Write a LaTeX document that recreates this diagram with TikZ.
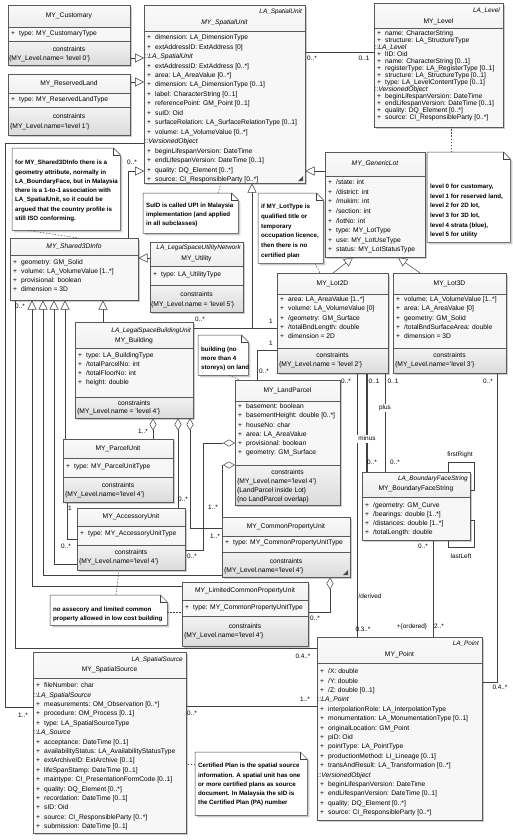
\documentclass[tikz,border=0pt]{standalone}
\usepackage{fontspec}
\setmainfont{Liberation Sans}
\usetikzlibrary{arrows.meta,shadows}

\newcommand\pl{\makebox[8pt][l]{+}}
\newcommand\grp{\hspace*{-2.5pt}\itshape}

\begin{document}
\begin{tikzpicture}[x=1pt,y=-1pt,
    cls/.style n args={4}{draw=black!65, line width=.5pt, fill=gray!6,
        anchor=north west, inner sep=0pt, minimum width=#1, minimum height=#2,
        drop shadow={shadow xshift=2pt,shadow yshift=-2pt,opacity=.4},
        path picture={
            \shade[top color=gray!4,bottom color=gray!32]
                (path picture bounding box.north west) rectangle ([yshift=-#3pt]path picture bounding box.north east);
            \shade[top color=gray!10,bottom color=gray!28]
                (path picture bounding box.south west) rectangle ([yshift=#4pt]path picture bounding box.south east);
            \draw[black!65,line width=.5pt]
                ([yshift=-#3pt]path picture bounding box.north west) -- ([yshift=-#3pt]path picture bounding box.north east)
                ([yshift=#4pt]path picture bounding box.south west) -- ([yshift=#4pt]path picture bounding box.south east);
        }},
    txt/.style={inner sep=0pt, text height=4.8pt, text depth=1.4pt, font=\fontsize{6.7}{8}\selectfont},
    attr/.style={txt, anchor=west},
    cname/.style={txt},
    stereo/.style={txt, anchor=east, font=\fontsize{6.4}{8}\selectfont\itshape},
    mult/.style={txt, font=\fontsize{6.4}{8}\selectfont},
    notebox/.style 2 args={anchor=north west, inner sep=0pt, minimum width=#1, minimum height=#2},
    notetxt/.style={txt, anchor=west, font=\fontsize{6.2}{8}\selectfont\bfseries},
    line/.style={draw=black!75, line width=.5pt},
    gen/.style={line, -{Triangle[open,length=9pt,width=9pt,fill=white]}},
    agg/.style={line, {Diamond[open,length=12pt,width=7pt,fill=white]}-},
    anchorline/.style={line, dash pattern=on 1.5pt off 1.5pt}]

    \useasboundingbox (0,0) rectangle (513,840);

    % Classes
    \node[cls={122}{60}{22}{24}] (cust) at (8,5) {};
    \node[cls={122}{61}{19}{28}] (res) at (8,74) {};
    \node[cls={161}{178}{26}{0}] (su) at (144,5) {};
    \node[cls={129}{124}{25}{0}] (lvl) at (374,3) {};
    \node[cls={100}{105}{24}{0}] (gen) at (325,152) {};
    \node[cls={111}{100}{21}{25}] (lot2d) at (277,273) {};
    \node[cls={113}{100}{21}{25}] (lot3d) at (393,273) {};
    \node[cls={128}{62}{17}{0}] (shared) at (10,238) {};
    \node[cls={93}{70}{24}{27}] (util) at (150,242) {};
    \node[cls={118}{96}{26}{21}] (bld) at (75,322) {};
    \node[cls={110}{63}{19}{25}] (parcel) at (63,439) {};
    \node[cls={108}{62}{18}{25}] (acc) at (77,508) {};
    \node[cls={105}{125}{21}{40}] (land) at (235,380) {};
    \node[cls={128}{60}{19}{25}] (cpu) at (222,517) {};
    \node[cls={126}{64}{18}{30}] (lcpu) at (182,582) {};
    \node[cls={108}{68}{25}{0}] (bfs) at (362,472) {};
    \node[cls={165}{183}{26}{0}] (pt) at (317,637) {};
    \node[cls={153}{181}{26}{0}] (src) at (33,652) {};

    % Notes
    \node[notebox={108}{82}] (n1) at (12,148) {};
    \node[notebox={95}{40}] (n2) at (143,193) {};
    \node[notebox={65}{70}] (n3) at (258,193) {};
    \node[notebox={83}{90}] (nlvl) at (427,152) {};
    \node[notebox={50}{40}] (n5) at (198,335) {};
    \node[notebox={117}{30}] (n4) at (50,595) {};
    \node[notebox={112}{63}] (n6) at (195,752) {};
    \foreach \n in {n1,n2,n3,nlvl,n5,n4,n6} {
        \draw[line, fill=white, drop shadow={shadow xshift=2pt,shadow yshift=-2pt,opacity=.4}]
            (\n.north west) -- ([xshift=-7pt]\n.north east) -- ([yshift=-7pt]\n.north east)
            -- (\n.south east) -- (\n.south west) -- cycle;
        \draw[line] ([xshift=-7pt]\n.north east) |- ([yshift=-7pt]\n.north east);
    }

    % Class titles
    \node[cname] (cust-n) at (69,16) {MY\_Customary};
    \node[cname] (res-n) at (69,84) {MY\_ReservedLand};
    \node[stereo] (su-s) at (302,12) {LA\_SpatialUnit};
    \node[cname, font=\fontsize{6.7}{8}\selectfont\itshape] (su-n) at (224.5,23) {MY\_SpatialUnit};
    \node[stereo] (lvl-s) at (500,11) {LA\_Level};
    \node[cname] (lvl-n) at (438.5,22) {MY\_Level};
    \node[cname, font=\fontsize{6.7}{8}\selectfont\itshape] (gen-n) at (375,164) {MY\_GenericLot};
    \node[cname] (lot2d-n) at (332.5,284) {MY\_Lot2D};
    \node[cname] (lot3d-n) at (449.5,284) {MY\_Lot3D};
    \node[cname, font=\fontsize{6.7}{8}\selectfont\itshape] (shared-n) at (74,247) {MY\_Shared3DInfo};
    \node[stereo] (util-s) at (241,248) {LA\_LegalSpaceUtilityNetwork};
    \node[cname] (util-n) at (196.5,259) {MY\_Utility};
    \node[stereo] (bld-s) at (191,331) {LA\_LegalSpaceBuildingUnit};
    \node[cname] (bld-n) at (134,341) {MY\_Building};
    \node[cname] (parcel-n) at (118,449) {MY\_ParcelUnit};
    \node[cname] (acc-n) at (131,517) {MY\_AccessoryUnit};
    \node[cname] (land-n) at (287.5,391) {MY\_LandParcel};
    \node[cname] (cpu-n) at (286,527) {MY\_CommonPropertyUnit};
    \node[cname] (lcpu-n) at (245,591) {MY\_LimitedCommonPropertyUnit};
    \node[stereo] (bfs-s) at (468,479) {LA\_BoundaryFaceString};
    \node[cname] (bfs-n) at (416,489) {MY\_BoundaryFaceString};
    \node[stereo] (pt-s) at (479,644) {LA\_Point};
    \node[cname] (pt-n) at (399.5,655) {MY\_Point};
    \node[stereo] (src-s) at (183,660) {LA\_SpatialSource};
    \node[cname] (src-n) at (109.5,670) {MY\_SpatialSource};

    % Attributes
    \node[attr] (cust-0) at (11,34) {\pl type: MY\_CustomaryType};
    \node[attr] (res-0) at (11,100) {\pl type: MY\_ReservedLandType};
    \foreach \t [count=\i from 0] in {{\pl dimension: LA\_DimensionType},{\pl extAddressID: ExtAddress [0]},
        {\grp ::LA\_SpatialUnit},{\pl extAddressID: ExtAddress [0..*]},{\pl area: LA\_AreaValue [0..*]},
        {\pl dimension: LA\_DimensionType [0..1]},{\pl label: CharacterString [0..1]},
        {\pl referencePoint: GM\_Point [0..1]},{\pl suID: Oid},
        {\pl surfaceRelation: LA\_SurfaceRelationType [0..1]},{\pl volume: LA\_VolumeValue [0..*]},
        {\grp ::VersionedObject},{\pl beginLifespanVersion: DateTime},
        {\pl endLifespanVersion: DateTime [0..1]},{\pl quality: DQ\_Element [0..*]},
        {\pl source: CI\_ResponsibleParty [0..*]}}
        \node[attr] (su-\i) at (147,38+9.45*\i) {\t};
    \foreach \t [count=\i from 0] in {{\pl name: CharacterString},{\pl structure: LA\_StructureType},
        {\grp ::LA\_Level},{\pl lID: Oid},{\pl name: CharacterString [0..1]},
        {\pl registerType: LA\_RegisterType [0..1]},{\pl structure: LA\_StructureType [0..1]},
        {\pl type: LA\_LevelContentType [0..1]},{\grp ::VersionedObject},
        {\pl beginLifespanVersion: DateTime},{\pl endLifespanVersion: DateTime [0..1]},
        {\pl quality: DQ\_Element [0..*]},{\pl source: CI\_ResponsibleParty [0..*]}}
        \node[attr] (lvl-\i) at (377,34+7*\i) {\t};
    \foreach \t [count=\i from 0] in {{\pl /state: int},{\pl /district: int},{\pl /mukim: int},
        {\pl /section: int},{\pl /lotNo: int},{\pl type: MY\_LotType},{\pl use: MY\_LotUseType},
        {\pl status: MY\_LotStatusType}}
        \node[attr] (gen-\i) at (328,183+9.6*\i) {\t};
    \foreach \t [count=\i from 0] in {{\pl area: LA\_AreaValue [1..*]},{\pl volume: LA\_VolumeValue [0]},
        {\pl /geometry: GM\_Surface},{\pl /totalBndLength: double},{\pl dimension = 2D}}
        \node[attr] (lot2d-\i) at (280,300+9.25*\i) {\t};
    \foreach \t [count=\i from 0] in {{\pl volume: LA\_VolumeValue [1..*]},{\pl area: LA\_AreaValue [0]},
        {\pl geometry: GM\_Solid},{\pl /totalBndSurfaceArea: double},{\pl dimension = 3D}}
        \node[attr] (lot3d-\i) at (396,300+9.25*\i) {\t};
    \foreach \t [count=\i from 0] in {{\pl geometry: GM\_Solid},{\pl volume: LA\_VolumeValue [1..*]},
        {\pl provisional: boolean},{\pl dimension = 3D}}
        \node[attr] (shared-\i) at (13,263+9*\i) {\t};
    \node[attr] (util-0) at (153,275) {\pl type: LA\_UtilityType};
    \foreach \t [count=\i from 0] in {{\pl type: LA\_BuildingType},{\pl /totalParcelNo: int},
        {\pl /totalFloorNo: int},{\pl height: double}}
        \node[attr] (bld-\i) at (78,356+9*\i) {\t};
    \node[attr] (parcel-0) at (66,467) {\pl type: MY\_ParcelUnitType};
    \node[attr] (acc-0) at (80,534) {\pl type: MY\_AccessoryUnitType};
    \foreach \t [count=\i from 0] in {{\pl basement: boolean},{\pl basementHeight: double [0..*]},
        {\pl houseNo: char},{\pl area: LA\_AreaValue},{\pl provisional: boolean},{\pl geometry: GM\_Surface}}
        \node[attr] (land-\i) at (238,407+9.2*\i) {\t};
    \node[attr] (cpu-0) at (225,543) {\pl type: MY\_CommonPropertyUnitType};
    \node[attr] (lcpu-0) at (185,608) {\pl type: MY\_CommonPropertyUnitType};
    \foreach \t [count=\i from 0] in {{\pl /geometry: GM\_Curve},{\pl /bearings: double [1..*]},
        {\pl /distances: double [1..*]},{\pl /totalLength: double}}
        \node[attr] (bfs-\i) at (365,506+9*\i) {\t};
    \foreach \t [count=\i from 0] in {{\pl /X: double},{\pl /Y: double},{\pl /Z: double [0..1]},
        {\grp ::LA\_Point},{\pl interpolationRole: LA\_InterpolationType},
        {\pl monumentation: LA\_MonumentationType [0..1]},{\pl originalLocation: GM\_Point},
        {\pl pID: Oid},{\pl pointType: LA\_PointType},{\pl productionMethod: LI\_Lineage [0..1]},
        {\pl transAndResult: LA\_Transformation [0..*]},{\grp ::VersionedObject},
        {\pl beginLifespanVersion: DateTime},{\pl endLifespanVersion: DateTime [0..1]},
        {\pl quality: DQ\_Element [0..*]},{\pl source: CI\_ResponsibleParty [0..*]}}
        \node[attr] (pt-\i) at (320,672+9.4*\i) {\t};
    \foreach \t [count=\i from 0] in {{\pl fileNumber: char},{\grp ::LA\_SpatialSource},
        {\pl measurements: OM\_Observation [0..*]},{\pl procedure: OM\_Process [0..1]},
        {\pl type: LA\_SpatialSourceType},{\grp ::LA\_Source},{\pl acceptance: DateTime [0..1]},
        {\pl availabilityStatus: LA\_AvailabilityStatusType},{\pl extArchiveID: ExtArchive [0..1]},
        {\pl lifeSpanStamp: DateTime [0..1]},{\pl maintype: CI\_PresentationFormCode [0..1]},
        {\pl quality: DQ\_Element [0..*]},{\pl recordation: DateTime [0..1]},{\pl sID: Oid},
        {\pl source: CI\_ResponsibleParty [0..*]},{\pl submission: DateTime [0..1]}}
        \node[attr] (src-\i) at (36,686+9.4*\i) {\t};

    % Constraints
    \foreach \b/\x/\y in {cust/69/50,res/69/117,lot2d/332.5/356,lot3d/449.5/356,util/196.5/295,
        bld/134/404,parcel/118/486,acc/131/553,land/287.5/473,cpu/286/562,lcpu/245/627}
        \node[cname] (\b-c) at (\x,\y) {constraints};
    \foreach \b/\x/\y/\t in {cust/9/59/{= 'level 0'},res/10/127/{='level 1'},lot2d/279/365/{ = 'level 2'},
        lot3d/395/365/{='level 3'},util/151/305/{ = 'level 5'},bld/77/412/{ = 'level 4'},
        parcel/65/495/{='level 4'},acc/79/562/{='level 4'},land/237/482/{='level 4'},
        cpu/224/571/{='level 4'},lcpu/184/636/{='level 4'}}
        \node[attr] (\b-c1) at (\x,\y) {\{MY\_Level.name\t\}};
    \node[attr] (land-c2) at (237,491) {\{LandParcel inside Lot\}};
    \node[attr] (land-c3) at (237,500) {\{no LandParcel overlap\}};
    \fill[black!70] (298,181) -- (303,176) -- (303,181) -- cycle;
    \fill[black!70] (343,575) -- (348,570) -- (348,575) -- cycle;

    % Note texts
    \foreach \t [count=\i from 0] in {{for MY\_Shared3DInfo there is a},{geometry attribute, normally in},
        {LA\_BoundaryFace, but in Malaysia},{there is a 1-to-1 association with},
        {LA\_SpatialUnit, so it could be},{argued that the country profile is},{still ISO conforming.}}
        \node[notetxt] (n1-\i) at (15,163+9.3*\i) {\t};
    \foreach \t [count=\i from 0] in {{SuID is called UPI in Malaysia},{implementation (and applied},
        {in all subclasses)}}
        \node[notetxt] (n2-\i) at (146,206+9*\i) {\t};
    \foreach \t [count=\i from 0] in {{if MY\_LotType is},{qualified title or},{temporary},
        {occupation licence,},{then there is no},{certified plan}}
        \node[notetxt] (n3-\i) at (261,207+9.7*\i) {\t};
    \foreach \t [count=\i from 0] in {{level 0 for customary,},{level 1 for reserved land,},
        {level 2 for 2D lot,},{level 3 for 3D lot,},{level 4 strata (blue),},{level 5 for utility}}
        \node[notetxt] (nlvl-\i) at (430,187+9.6*\i) {\t};
    \foreach \t [count=\i from 0] in {{building (no},{more than 4},{storeys) on land}}
        \node[notetxt] (n5-\i) at (201,350+9*\i) {\t};
    \foreach \t [count=\i from 0] in {{no assecory and limited common},{property allowed in low cost building}}
        \node[notetxt] (n4-\i) at (53,610+9*\i) {\t};
    \foreach \t [count=\i from 0] in {{Certified Plan is the spatial source},{information. A spatial unit has one},
        {or more certified plans as source},{document. In Malaysia the sID is},{the Certified Plan (PA) number}}
        \node[notetxt] (n6-\i) at (198,766+9.3*\i) {\t};

    % Generalisations
    \draw[gen] (cust.east |- 0,58) -- (su.west |- 0,58);
    \draw[gen] (res.east |- 0,82) -- (su.west |- 0,82);
    \draw[gen] (shared.north -| 128,0) |- (su.west |- 0,171);
    \draw[gen] (gen.west |- 0,171) -- (su.east |- 0,171);
    \draw[gen] (lot2d.north -| 333,0) -- (gen.south -| 353,0);
    \draw[gen] (lot3d.north -| 420,0) -- (gen.south -| 398,0);
    \draw[gen] (252,328) -- (su.south -| 252,0);
    \draw[gen] (util.west |- 0,258) -- (shared.east |- 0,258);
    \draw[gen] (bld.north -| 103,0) -- (shared.south -| 103,0);
    \draw[gen] (parcel.north -| 65,0) -- (shared.south -| 65,0);
    \draw[gen] (acc.west |- 0,564) -| (shared.south -| 54,0);
    \draw[gen] (cpu.west |- 0,575) -| (shared.south -| 43,0);
    \draw[gen] (lcpu.west |- 0,586) -| (shared.south -| 32,0);

    % Aggregations
    \draw[agg] (bld.south -| 153,0) -- (parcel.north -| 153,0);
    \draw[agg] (bld.south -| 178,0) -- (acc.north -| 178,0);
    \draw[agg] (bld.south -| 190,0) |- (cpu.west |- 0,528);
    \draw[agg] (land.west |- 0,443) -| (203,550) -- (acc.east |- 0,550);
    \draw[agg] (land.west |- 0,465) -- (222,465) -- (cpu.north west);
    \draw[agg] (cpu.south -| 330,0) |- (lcpu.east |- 0,612);

    % Associations
    \draw[line] (su.east |- 0,52) -- (lvl.west |- 0,52);
    \draw[line] (su.west |- 0,143) -| (5,707) -- (src.west |- 0,707);
    \draw[line] (shared.south -| 15,0) |- (pt.west |- 0,648);
    \draw[line] (src.east |- 0,706) -- (pt.west |- 0,706);
    \draw[line] (parcel.south -| 67,0) |- (acc.west |- 0,539);
    \draw[line] (bld.east |- 0,328) -- (lot2d.west |- 0,328);
    \draw[line] (lot2d.west |- 0,350) -| (land.north -| 257,0);
    \draw[line] (lot2d.south -| 357,0) -- (pt.north -| 357,0);
    \draw[line, line width=1.3pt] (lot2d.south -| 367,0) -- (bfs.north -| 367,0);
    \draw[line] (lot2d.south -| 385,0) -- (bfs.north -| 385,0);
    \draw[line] (lot3d.south -| 497,0) |- (pt.east |- 0,682);
    \draw[line] (bfs.south -| 433,0) -- (pt.north -| 433,0);
    \draw[line] (bfs.north -| 448,0) |- (474,462) |- (bfs.east |- 0,490);
    \draw[line] (bfs.east |- 0,520) -| (474,547) -| (bfs.south -| 448,0);

    % Note links
    \draw[anchorline] (nlvl.north -| 451,0) -- (lvl.south -| 451,0);
    \draw[anchorline] (n2.north -| 218,0) -- (su.south -| 221,0);
    \draw[anchorline] (n3.south -| 315,0) -- (lot2d.north -| 320,0);
    \draw[anchorline] (n1.south -| 28,0) -- (shared.north -| 78,0);
    \draw[anchorline] (n5.south -| 229,0) -- (land.north -| 240,0);
    \draw[anchorline] (n4.north -| 116,0) -- (acc.south -| 119,0);
    \draw[anchorline] (n4.east |- 0,612) -- (lcpu.west |- 0,612);
    \draw[anchorline] (n6.west |- 0,764) -- (src.east |- 0,764);

    % Multiplicities and roles
    \foreach \x/\y/\t [count=\i] in {312/59/0..*,364/59/0..1,132/163/0..*,20/307/0..*,303/657/0.4..*,
        23/716/1..*,192/714/0..*,305/700/1..*,143/432/1..*,183/500/0..*,215/537/1..*,192/557/0..*,
        213/508/1..*,315/619/0..*,70/509/1,66/547/0..*,200/320/0..*,271/322/1,271/344/1,264/372/0..*,
        346/382/0..*,374/382/0..1,393/382/0..1,488/382/0..*,372/463/0..*,395/463/0..*,
        363/630/0.3..*,412/627/+\{ordered\},439/627/2..*,423/547/0..*,500/688/0.4..*,
        460/455/firstRight,461/557/lastLeft,370/597/{/derived}}
        \node[mult] (m\i) at (\x,\y) {\t};
    \node[mult, fill=white, inner sep=1pt] (m-minus) at (367,439) {minus};
    \node[mult, fill=white, inner sep=1pt] (m-plus) at (385,408) {plus};
\end{tikzpicture}
\end{document}
